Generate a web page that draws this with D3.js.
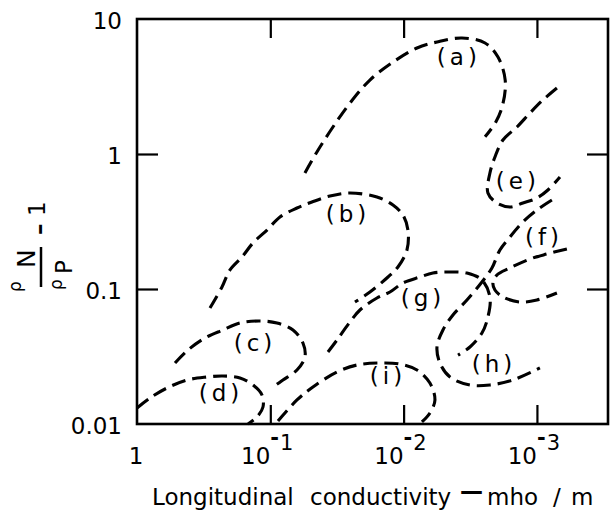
<!DOCTYPE html>
<html><head><meta charset="utf-8">
<script src="https://cdn.jsdelivr.net/npm/d3@7"></script>
<style>
body{margin:0;background:#fff}
svg{display:block;background:#fff}
text{font-family:"DejaVu Sans",sans-serif;fill:#000}
</style>
</head><body>
<svg id="chart" width="610" height="512"></svg>
<script>
// ---- tick definitions ----
const xTickValues = [1, 0.1, 0.01, 0.001];
const xTickBase = ["1", "10", "10", "10"];
const xTickExp = ["", "-1", "-2", "-3"];
const yTickValues = [10, 1, 0.1, 0.01];
const yTickLabels = ["10", "1", "0.1", "0.01"];

// ---- curves: [conductivity (mho/m), rhoN/rhoP - 1] ----
const curveA = [[0.0550,0.723],[0.0447,1.035],[0.0339,1.585],[0.0252,2.39],[0.0179,3.53],[0.0120,4.80],[0.00794,6.10],[0.00561,6.76],[0.00365,7.23],[0.00245,6.64],[0.00196,5.23],[0.00173,3.53],[0.00180,2.35],[0.00203,1.73],[0.00245,1.34]];
const curveB = [[0.2835,0.0723],[0.2304,0.1035],[0.2007,0.1383],[0.1631,0.1726],[0.1349,0.2193],[0.1059,0.2735],[0.0846,0.3415],[0.0631,0.398],[0.0487,0.441],[0.0357,0.4885],[0.02527,0.514],[0.01585,0.4803],[0.01202,0.419],[0.01012,0.353],[0.00928,0.2735],[0.00944,0.1945],[0.01103,0.1455],[0.0131,0.1227],[0.01789,0.0950],[0.02317,0.0801]];
const curveC = [[0.5188,0.0283],[0.4145,0.03532],[0.309,0.04335],[0.2265,0.04969],[0.1689,0.05598],[0.1195,0.05794],[0.0891,0.05598],[0.0676,0.04969],[0.0569,0.0398],[0.0550,0.03134],[0.0631,0.02512],[0.0804,0.02118],[0.0955,0.0188]];
const curveD = [[1.0,0.01314],[0.7989,0.01558],[0.5957,0.01848],[0.4217,0.02118],[0.2985,0.02228],[0.2265,0.02268],[0.1689,0.02191],[0.1349,0.01945],[0.1155,0.0164],[0.1135,0.01336],[0.1259,0.01127],[0.147,0.0100]];
const curveE = [[0.000708,3.083],[0.000902,2.512],[0.001128,2.012],[0.001413,1.585],[0.001799,1.270],[0.002065,0.950],[0.002252,0.723],[0.002331,0.514],[0.001995,0.4335],[0.001594,0.405],[0.001274,0.4335],[0.001,0.472],[0.000827,0.541],[0.000672,0.6756]];
const curveF = [[0.000596,0.1978],[0.000841,0.1817],[0.001128,0.1668],[0.001594,0.1431],[0.001995,0.1270],[0.002138,0.1108],[0.002065,0.0983],[0.001799,0.0873],[0.001341,0.0801],[0.001,0.0829],[0.000708,0.0934]];
const curveG = [[0.03694,0.03415],[0.03162,0.0419],[0.02527,0.0570],[0.02126,0.0699],[0.01585,0.0858],[0.01266,0.0950],[0.01012,0.1108],[0.00754,0.1227],[0.00603,0.1314],[0.00465,0.1336],[0.00335,0.1314],[0.002585,0.1166],[0.002252,0.0873],[0.002331,0.0620],[0.002585,0.0472],[0.00318,0.0372],[0.00391,0.0324]];
const curveH = [[0.000772,0.4564],[0.001,0.3847],[0.001274,0.3134],[0.001594,0.2427],[0.001895,0.1945],[0.002176,0.1431],[0.002585,0.1127],[0.00335,0.0829],[0.004266,0.0642],[0.00507,0.04969],[0.00562,0.0372],[0.00534,0.0283],[0.00449,0.02228],[0.00318,0.01945],[0.002252,0.01945],[0.001514,0.02118],[0.00095,0.026]];
const curveI = [[0.0876,0.01052],[0.0631,0.01506],[0.0479,0.0188],[0.03162,0.02427],[0.02239,0.02735],[0.01505,0.0283],[0.01065,0.0278],[0.00794,0.02512],[0.00635,0.0201],[0.00582,0.01506],[0.00635,0.01207],[0.00729,0.01035]];

// ---- curve labels ----
const labelNames = ["(a)","(b)","(c)","(d)","(e)","(f)","(g)","(h)","(i)"];
const labelPos = [[0.00385,5.14],[0.02615,0.353],[0.1303,0.0391],[0.2344,0.01668],[0.001389,0.620],[0.000886,0.2386],[0.00716,0.0843],[0.0021,0.02735],[0.0131,0.02228]];

const xTitle = ["Longitudinal", "conductivity", "\u2014", "mho", "/", "m"];

const svg = d3.select("#chart");
const x = d3.scaleLog().domain([1, 2.93e-4]).range([137, 608]);
const y = d3.scaleLog().domain([0.01, 10]).range([424, 19]);

// curves
const curves = [curveA, curveB, curveC, curveD, curveE, curveF, curveG, curveH, curveI];
const line = d3.line().x(d => x(d[0])).y(d => y(d[1])).curve(d3.curveCatmullRom.alpha(0.5));
svg.append("g").selectAll("path").data(curves).join("path")
  .attr("d", line).attr("fill", "none").attr("stroke", "#000")
  .attr("stroke-width", 3.1).attr("stroke-dasharray", "14,7");

// frame
svg.append("rect").attr("x", x.range()[0]).attr("y", y.range()[1])
  .attr("width", x.range()[1] - x.range()[0]).attr("height", y.range()[0] - y.range()[1])
  .attr("fill", "none").attr("stroke", "#000").attr("stroke-width", 2.6);

// inward ticks
const inner = xTickValues.slice(1);
const innerY = yTickValues.slice(1, 3);
function styleAxis(g){ g.select(".domain").remove(); g.selectAll(".tick line").attr("stroke","#000").attr("stroke-width",2.2); g.selectAll(".tick text").remove(); }
svg.append("g").attr("transform", `translate(0,${y.range()[0]})`).call(d3.axisBottom(x).tickValues(inner).tickSize(-19).tickFormat("")).call(styleAxis);
svg.append("g").attr("transform", `translate(0,${y.range()[1]})`).call(d3.axisTop(x).tickValues(inner).tickSize(-19).tickFormat("")).call(styleAxis);
svg.append("g").attr("transform", `translate(${x.range()[0]},0)`).call(d3.axisLeft(y).tickValues(innerY).tickSize(-21).tickFormat("")).call(styleAxis);
svg.append("g").attr("transform", `translate(${x.range()[1]},0)`).call(d3.axisRight(y).tickValues(innerY).tickSize(-21).tickFormat("")).call(styleAxis);

// x tick labels
xTickValues.forEach((v, i) => {
  const px = x(v);
  if (!xTickExp[i]) {
    svg.append("text").attr("x", px - 1).attr("y", 464).attr("text-anchor", "middle").attr("font-size", 23).text(xTickBase[i]);
  } else {
    svg.append("text").attr("x", px).attr("y", 464).attr("text-anchor", "end").attr("font-size", 23).text(xTickBase[i]);
    const t = svg.append("text").attr("x", px).attr("y", 450).attr("font-size", 21);
    t.append("tspan").attr("dy", -5).attr("font-weight", "bold").text(xTickExp[i][0]);
    t.append("tspan").attr("dy", 5).attr("dx", 1).text(xTickExp[i].slice(1));
  }
});

// y tick labels
yTickValues.forEach((v, i) => {
  svg.append("text").attr("x", 122).attr("y", y(v) + 10).attr("text-anchor", "end").attr("font-size", 23).text(yTickLabels[i]);
});

// curve labels
svg.append("g").selectAll("text").data(labelNames).join("text")
  .attr("x", (d, i) => x(labelPos[i][0])).attr("y", (d, i) => y(labelPos[i][1]))
  .attr("dy", "0.31em").attr("text-anchor", "middle").attr("font-size", 23)
  .attr("letter-spacing", 4).text(d => d);

// x axis title
const titleX = [152, 310, 460, 487, 553, 571];
const tt = svg.append("text").attr("y", 505).attr("font-size", 23);
xTitle.forEach((w, i) => {
  const s = tt.append("tspan").attr("x", titleX[i]).attr("y", i === 2 ? 499 : 505).text(w);
  if (i === 2) s.attr("font-weight", "bold");
});

// y axis title (rotated fraction): rhoN / rhoP - 1
const yl = svg.append("g").attr("transform", "rotate(-90)");
yl.append("text").attr("x", -292).attr("y", 21).attr("font-size", 17).text("\u03c1");
yl.append("text").attr("x", -268).attr("y", 35).attr("font-size", 25).text("N");
yl.append("line").attr("x1", -287).attr("x2", -247).attr("y1", 41).attr("y2", 41).attr("stroke", "#000").attr("stroke-width", 2.5);
yl.append("text").attr("x", -290).attr("y", 62).attr("font-size", 17).text("\u03c1");
yl.append("text").attr("x", -274).attr("y", 72).attr("font-size", 23).text("P");
yl.append("text").attr("x", -235).attr("y", 47).attr("font-size", 23).attr("font-weight", "bold").text("\u2013");
yl.append("text").attr("x", -216).attr("y", 45).attr("font-size", 23).text("1");
</script>
</body></html>
